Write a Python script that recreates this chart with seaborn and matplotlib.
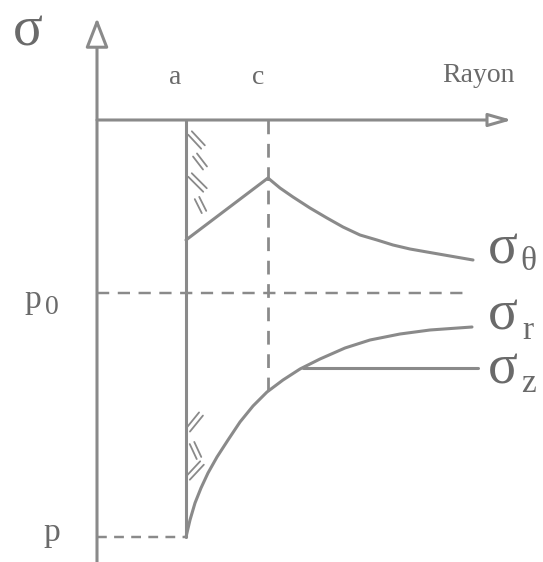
import matplotlib
matplotlib.use("Agg")
import matplotlib.pyplot as plt
import seaborn as sns
import pandas as pd
from matplotlib.patches import FancyArrowPatch

# ---------------- data (chart units: radius r, stress sigma) ----------------
a_r = 0.89          # inner radius a
c_r = 1.71          # plastic radius c
p0_s = -1.73        # far-field stress p0
p_s = -4.17         # internal pressure p

theta_r = [0.89, 1.71, 1.83, 1.96, 2.13, 2.30, 2.46, 2.63, 2.80, 2.96, 3.13, 3.30, 3.53, 3.76]
theta_s = [-1.20, -0.58, -0.68, -0.77, -0.88, -0.98, -1.07, -1.15, -1.20, -1.25, -1.29,
           -1.32, -1.36, -1.40]

rad_r = [0.89, 0.93, 0.98, 1.04, 1.11, 1.20, 1.31, 1.43, 1.56, 1.70, 1.86, 2.03, 2.23,
         2.48, 2.73, 3.03, 3.33, 3.75]
rad_s = [-4.17, -4.00, -3.83, -3.68, -3.53, -3.37, -3.20, -3.02, -2.86, -2.72, -2.60,
         -2.49, -2.39, -2.28, -2.20, -2.14, -2.10, -2.07]

sz_r = [2.06, 3.81]
sz_s = [-2.48, -2.48]

axis_label_x = "Rayon"
axis_label_y = "σ"
radius_labels = ["a", "c"]
curve_subs = ["θ", "r", "z"]

# ---------------- style ----------------
GRAY = "#8a8a8a"
TXT = "#6a6a6a"
LW = 2.2
sns.set_theme(style="white")
plt.rcParams["font.family"] = ["Liberation Serif", "DejaVu Serif"]

fig = plt.figure(figsize=(5.43, 5.62), dpi=100)
ax = fig.add_axes([0, 0, 1, 1])
ax.set_xlim(-0.97, 4.46)
ax.set_ylim(-4.42, 1.20)
ax.axis("off")

def px(x):
    return (x - 97) / 100.0

def py(y):
    return -(y - 120) / 100.0

# axes with open arrowheads
for posA, posB, hl, hw in [((0, -4.42), (0, py(18)), 18, 7),
                           ((0, 0), (px(512), 0), 14, 4)]:
    ax.add_patch(FancyArrowPatch(posA, posB,
                                 arrowstyle=f"-|>,head_length={hl},head_width={hw}",
                                 mutation_scale=1, fc="white", ec=GRAY, lw=LW,
                                 shrinkA=0, shrinkB=0, zorder=3))

# wall at r = a
df_wall = pd.DataFrame({"r": [a_r, a_r], "s": [0, p_s]})
sns.lineplot(data=df_wall, x="r", y="s", color=GRAY, lw=LW, ax=ax,
             estimator=None, sort=False)

# dashed references
dash = (5, 3.5)
sns.lineplot(x=[c_r, c_r], y=[0, -2.71], color=GRAY, lw=LW * 0.9, ax=ax,
             estimator=None, sort=False, linestyle=(0, dash))
sns.lineplot(x=[0, px(470)], y=[p0_s, p0_s], color=GRAY, lw=LW * 0.8, ax=ax,
             estimator=None, sort=False, linestyle=(0, dash))
sns.lineplot(x=[0, a_r], y=[p_s, p_s], color=GRAY, lw=LW * 0.8, ax=ax,
             estimator=None, sort=False, linestyle=(0, (4, 3)))

# stress curves
sns.lineplot(x=theta_r, y=theta_s, color=GRAY, lw=LW, ax=ax, estimator=None, sort=False)
sns.lineplot(x=rad_r, y=rad_s, color=GRAY, lw=LW, ax=ax, estimator=None, sort=False)
sns.lineplot(x=sz_r, y=sz_s, color=GRAY, lw=LW, ax=ax, estimator=None, sort=False)
for line in ax.lines:
    line.set_solid_joinstyle("round")

# hatching along the wall (double strokes)
strokes = [((190, 133), (203, 147)), ((195, 155), (205, 168)),
           ((190, 175), (205, 190)), ((197, 198), (204, 212)),
           ((188, 430), (201, 414)), ((192, 443), (199, 458)),
           ((188, 478), (202, 463))]
for (x1, y1), (x2, y2) in strokes:
    dx, dy = x2 - x1, y2 - y1
    n = (dx * dx + dy * dy) ** 0.5
    ox, oy = -dy / n * 2.5, dx / n * 2.5
    for k in (-1, 1):
        ax.plot([px(x1 + k * ox), px(x2 + k * ox)], [py(y1 + k * oy), py(y2 + k * oy)],
                color=GRAY, lw=1.3, solid_capstyle="round")

# text
ax.text(px(28), py(32), axis_label_y, fontsize=40, color=TXT, ha="center", va="center")
ax.text(px(175), py(77), radius_labels[0], fontsize=20, color=TXT, ha="center", va="center")
ax.text(px(258), py(77), radius_labels[1], fontsize=20, color=TXT, ha="center", va="center")
ax.text(px(478), py(76), axis_label_x, fontsize=20, color=TXT, ha="center", va="center")
ax.text(px(33), py(300), "p", fontsize=24, color=TXT, ha="center", va="center")
ax.text(px(52), py(307), "0", fontsize=20, color=TXT, ha="center", va="center")
ax.text(px(52), py(533), "p", fontsize=24, color=TXT, ha="center", va="center")

label_y = [250, 315, 370]
sub_dy = [12, 16, 14]
for sub, ly, d in zip(curve_subs, label_y, sub_dy):
    ax.text(px(503), py(ly), "σ", fontsize=40, color=TXT, ha="center", va="center")
    ax.text(px(528), py(ly + d), sub, fontsize=24, color=TXT, ha="center", va="center")

fig.savefig("out.png", dpi=100)
